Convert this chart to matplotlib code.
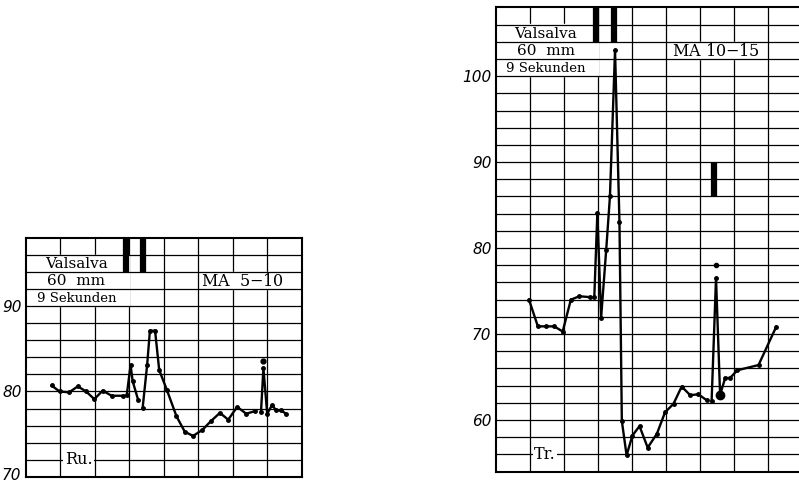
import matplotlib
matplotlib.use("Agg")
import matplotlib.pyplot as plt
import matplotlib.transforms as mtransforms
from matplotlib.patches import Rectangle

# --- left chart (Ru., MA 5-10) ---
ru_x1 = [0.75, 0.98, 1.26, 1.51, 1.75, 1.99, 2.23, 2.49, 2.83]
ru_y1 = [80.7, 80.0, 79.9, 80.6, 80.0, 79.1, 80.1, 79.5, 79.5]
ru_x2 = [2.93, 3.04, 3.10, 3.26]
ru_y2 = [79.6, 83.1, 81.2, 79.0]
ru_x3 = [3.39, 3.52, 3.60, 3.75, 3.87, 4.09, 4.37, 4.61, 4.85, 5.12, 5.36, 5.63, 5.87, 6.13, 6.39, 6.65]
ru_y3 = [78.1, 83.1, 87.1, 87.1, 82.5, 80.2, 77.1, 75.3, 74.8, 75.5, 76.5, 77.5, 76.7, 78.2, 77.4, 77.7]
ru_x4 = [6.82, 6.89, 7.00, 7.14, 7.26, 7.40, 7.54]
ru_y4 = [77.6, 82.7, 77.4, 78.4, 77.8, 77.8, 77.4]
ru_dot = [6.89, 83.6]
ru_bars = [2.91, 3.40]
ru_ticks = [70, 80, 90]

# --- right chart (Tr., MA 10-15) ---
tr_x1 = [0.98, 1.24, 1.47, 1.72, 1.97, 2.21, 2.46, 2.77]
tr_y1 = [74.0, 70.9, 70.9, 70.9, 70.3, 74.0, 74.4, 74.3]
tr_x2 = [2.90, 2.99, 3.10, 3.25, 3.36, 3.51, 3.64, 3.71, 3.85, 4.02, 4.23, 4.47,
         4.74, 4.98, 5.23, 5.47, 5.72, 5.96, 6.21]
tr_y2 = [74.3, 84.1, 71.9, 79.8, 86.0, 103.0, 83.0, 59.9, 55.9, 58.2, 59.3, 56.8,
         58.4, 60.9, 61.9, 63.9, 62.9, 63.0, 62.3]
tr_x3 = [6.35, 6.48, 6.60, 6.75, 6.89, 7.11, 7.73, 8.25]
tr_y3 = [62.2, 76.5, 62.95, 64.9, 64.9, 65.8, 66.4, 70.85]
tr_dot = [6.48, 78.0]
tr_big = [6.60, 62.95]
tr_bars = [2.94, 3.49]
tr_bar2 = 6.42
tr_ticks = [60, 70, 80, 90, 100]

serif = "DejaVu Serif"

fig = plt.figure(figsize=(7.99, 4.84), dpi=100)
ax1 = fig.add_axes([25.7 / 799, 7 / 484, 276 / 799, 239.5 / 484])
ax2 = fig.add_axes([495.7 / 799, 12.3 / 484, 306 / 799, 464.4 / 484])


def grid(ax, ncol, y0, y1):
    ax.set_xlim(0, ncol)
    ax.set_ylim(y0, y1)
    ax.vlines(range(1, ncol), y0, y1, color="k", lw=0.9, zorder=1)
    ax.hlines(range(y0 + 2, y1, 2), 0, ncol, color="k", lw=0.9, zorder=3)
    ax.set_xticks([])
    for s in ax.spines.values():
        s.set_linewidth(1.5)
        s.set_zorder(6)
    ax.tick_params(axis="y", length=0, pad=3)


def curve(ax, xs, ys):
    ax.plot(xs, ys, color="k", lw=1.7, marker="o", ms=2.5, zorder=5)


grid(ax1, 8, 70, 98)
grid(ax2, 9, 54, 108)

ax1.set_yticks(ru_ticks)
ax1.set_yticklabels([str(t) for t in ru_ticks], fontstyle="italic", fontsize=11)
ax2.set_yticks(tr_ticks)
ax2.set_yticklabels([str(t) for t in tr_ticks], fontstyle="italic", fontsize=11)

# the lowest label sits on the figure edge; nudge it up a little so it stays whole
lab70 = ax1.get_yticklabels()[0]
lab70.set_transform(lab70.get_transform() +
                    mtransforms.ScaledTranslation(0, 3 / 100, fig.dpi_scale_trans))

# white boxes behind the titles hide the vertical grid lines
ax1.add_patch(Rectangle((0, 90), 3, 6, color="white", zorder=2))
ax1.add_patch(Rectangle((5.3, 92), 2.4, 2, color="white", zorder=2))
ax2.add_patch(Rectangle((0, 100), 3, 6, color="white", zorder=2))
ax2.add_patch(Rectangle((5.1, 102), 2.8, 2, color="white", zorder=2))

for ax, cx, yv, ma, mx in [(ax1, 1.47, 94.9, "MA  5$-$10", 6.28),
                           (ax2, 1.48, 104.9, "MA 10$-$15", 6.47)]:
    ax.text(cx, yv, "Valsalva", family=serif, fontsize=11, ha="center", va="center", zorder=7)
    ax.text(cx, yv - 2, "60  mm", family=serif, fontsize=11, ha="center", va="center", zorder=7)
    ax.text(cx, yv - 4, "9 Sekunden", family=serif, fontsize=9.5, ha="center", va="center", zorder=7)
    ax.text(mx, yv - 2, ma, family=serif, fontsize=11.5, ha="center", va="center", zorder=7)

ax1.vlines(ru_bars, 94, 98, color="k", lw=4.5, zorder=5)
ax2.vlines(tr_bars, 104, 108, color="k", lw=4.5, zorder=5)
ax2.vlines([tr_bar2], 86, 90, color="k", lw=4.5, zorder=5)

ax1.text(1.53, 72, "Ru.", family=serif, fontsize=11.5, ha="center", va="center", zorder=7,
         bbox=dict(facecolor="white", edgecolor="none", pad=1))
ax2.text(1.45, 56, "Tr.", family=serif, fontsize=11.5, ha="center", va="center", zorder=7,
         bbox=dict(facecolor="white", edgecolor="none", pad=1))

for xs, ys in [(ru_x1, ru_y1), (ru_x2, ru_y2), (ru_x3, ru_y3), (ru_x4, ru_y4)]:
    curve(ax1, xs, ys)
ax1.plot(*ru_dot, "ko", ms=3.5, zorder=5)

for xs, ys in [(tr_x1, tr_y1), (tr_x2, tr_y2), (tr_x3, tr_y3)]:
    curve(ax2, xs, ys)
ax2.plot(*tr_dot, "ko", ms=3, zorder=5)
ax2.plot(*tr_big, "ko", ms=6, zorder=5)

fig.savefig("out.png", dpi=100)
